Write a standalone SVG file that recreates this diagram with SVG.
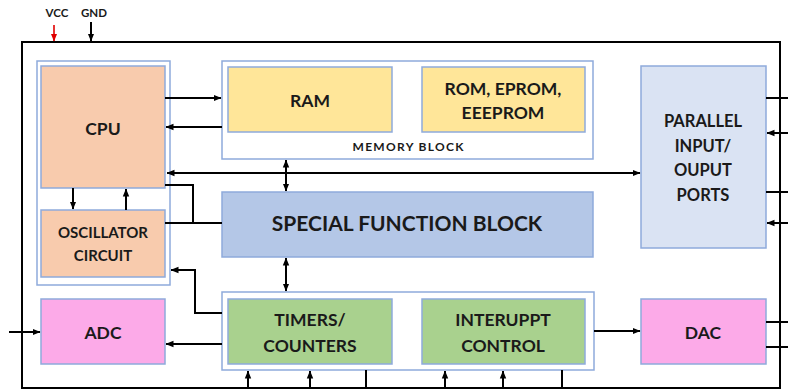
<svg xmlns="http://www.w3.org/2000/svg" width="788" height="391" viewBox="0 0 788 391">
<defs>
<marker id="ah" viewBox="0 0 8 8" refX="7.5" refY="4" markerWidth="8" markerHeight="8" markerUnits="userSpaceOnUse" orient="auto-start-reverse">
<path d="M0,0.8 L8,4 L0,7.2 Z" fill="#000"/>
</marker>
<marker id="ahr" viewBox="0 0 8 8" refX="7.5" refY="4" markerWidth="8" markerHeight="8" markerUnits="userSpaceOnUse" orient="auto">
<path d="M0,0.8 L8,4 L0,7.2 Z" fill="#e00000"/>
</marker>
</defs>
<style>
.grp{fill:#ffffff;stroke:#8eaadb;stroke-width:1.5}
.box{stroke:#8eaadb;stroke-width:1.5}
.cpu{fill:#f8cbad}
.mem{fill:#ffe699}
.tim{fill:#a9d18e}
.pink{fill:#fcaae8}
.sfb{fill:#b4c7e7}
.par{fill:#dae3f3}
text{font-family:Lato,"Liberation Sans",Arial,sans-serif;font-weight:bold;fill:#1a1a1a;text-anchor:middle}
.t{font-size:17.5px}
.ln{fill:none;stroke:#000;stroke-width:2}
.arr{fill:none;stroke:#000;stroke-width:2;marker-end:url(#ah)}
.arr2{fill:none;stroke:#000;stroke-width:2;marker-end:url(#ah);marker-start:url(#ah)}
</style>
<rect x="0" y="0" width="788" height="391" fill="#ffffff"/>

<g id="chip-border">
<rect x="22" y="42" width="758" height="346" fill="none" stroke="#000" stroke-width="2"/>
</g>

<g id="power">
<text x="57" y="17" style="font-size:11.5px">VCC</text>
<text x="94" y="17" style="font-size:11.5px">GND</text>
<line x1="54" y1="25" x2="54" y2="41" stroke="#e00000" stroke-width="1.6" marker-end="url(#ahr)"/>
<line x1="91" y1="22" x2="91" y2="41" class="arr"/>
</g>

<g id="cpu-group">
<rect x="37" y="61" width="133" height="224" class="grp"/>
</g>
<g id="cpu">
<rect x="41" y="66" width="124" height="122" class="box cpu"/>
<text x="103" y="135" class="t">CPU</text>
</g>
<g id="oscillator">
<rect x="41" y="210" width="124" height="67" class="box cpu"/>
<text x="103" y="238" style="font-size:15px">OSCILLATOR</text>
<text x="103" y="261" style="font-size:15px">CIRCUIT</text>
</g>

<g id="memory-block">
<rect x="222" y="61" width="371" height="98" class="grp"/>
<text x="408" y="151" style="font-size:12px" textLength="111">MEMORY BLOCK</text>
</g>
<g id="ram">
<rect x="228" y="67" width="164" height="65" class="box mem"/>
<text x="310" y="107" class="t">RAM</text>
</g>
<g id="rom">
<rect x="422" y="67" width="163" height="65" class="box mem"/>
<text x="503" y="95" class="t">ROM, EPROM,</text>
<text x="503" y="119" class="t">EEEPROM</text>
</g>

<g id="special-function-block">
<rect x="222" y="192" width="371" height="65" class="box sfb"/>
<text x="407" y="231" style="font-size:21px">SPECIAL FUNCTION BLOCK</text>
</g>

<g id="timer-group">
<rect x="222" y="292" width="372" height="78" class="grp"/>
</g>
<g id="timers">
<rect x="228" y="299" width="164" height="65" class="box tim"/>
<text x="310" y="326" class="t">TIMERS/</text>
<text x="310" y="352" class="t">COUNTERS</text>
</g>
<g id="interrupt">
<rect x="422" y="299" width="163" height="65" class="box tim"/>
<text x="503" y="326" class="t">INTERUPPT</text>
<text x="503" y="352" class="t">CONTROL</text>
</g>

<g id="adc">
<rect x="41" y="299" width="124" height="65" class="box pink"/>
<text x="103" y="339" class="t">ADC</text>
</g>
<g id="dac">
<rect x="641" y="299" width="125" height="65" class="box pink"/>
<text x="703" y="339" class="t">DAC</text>
</g>

<g id="parallel-ports">
<rect x="641" y="66" width="125" height="182" class="box par"/>
<text x="703" y="127" style="font-size:16.5px">PARALLEL</text>
<text x="703" y="152" style="font-size:16.5px">INPUT/</text>
<text x="703" y="176" style="font-size:16.5px">OUPUT</text>
<text x="703" y="201" style="font-size:16.5px">PORTS</text>
</g>

<g id="connectors">
<line x1="165" y1="98" x2="221" y2="98" class="arr"/>
<line x1="222" y1="127" x2="166" y2="127" class="arr"/>
<line x1="167" y1="173" x2="640" y2="173" class="arr2"/>
<line x1="286" y1="160" x2="286" y2="191" class="arr2"/>
<line x1="286" y1="258" x2="286" y2="291" class="arr2"/>
<polyline points="165,185 193,185 193,223" class="ln"/>
<line x1="165" y1="223" x2="222" y2="223" class="ln"/>
<line x1="73" y1="188" x2="73" y2="209" class="arr"/>
<line x1="126" y1="210" x2="126" y2="189" class="arr"/>
<polyline points="222,313 195,313 195,270 171,270" class="arr"/>
<line x1="9" y1="332" x2="40" y2="332" class="arr"/>
<line x1="222" y1="344" x2="166" y2="344" class="arr"/>
<line x1="594" y1="331" x2="640" y2="331" class="arr"/>
<line x1="766" y1="98" x2="788" y2="98" class="ln"/>
<line x1="788" y1="133" x2="767" y2="133" class="arr"/>
<line x1="766" y1="192" x2="788" y2="192" class="ln"/>
<line x1="788" y1="223" x2="767" y2="223" class="arr"/>
<line x1="766" y1="322" x2="788" y2="322" class="ln"/>
<line x1="766" y1="347" x2="788" y2="347" class="ln"/>
<line x1="248" y1="388" x2="248" y2="371" class="arr"/>
<line x1="310" y1="388" x2="310" y2="371" class="arr"/>
<line x1="366" y1="370" x2="366" y2="388" class="ln"/>
<line x1="445" y1="388" x2="445" y2="371" class="arr"/>
<line x1="503" y1="388" x2="503" y2="371" class="arr"/>
<line x1="562" y1="370" x2="562" y2="388" class="ln"/>
</g>
</svg>
